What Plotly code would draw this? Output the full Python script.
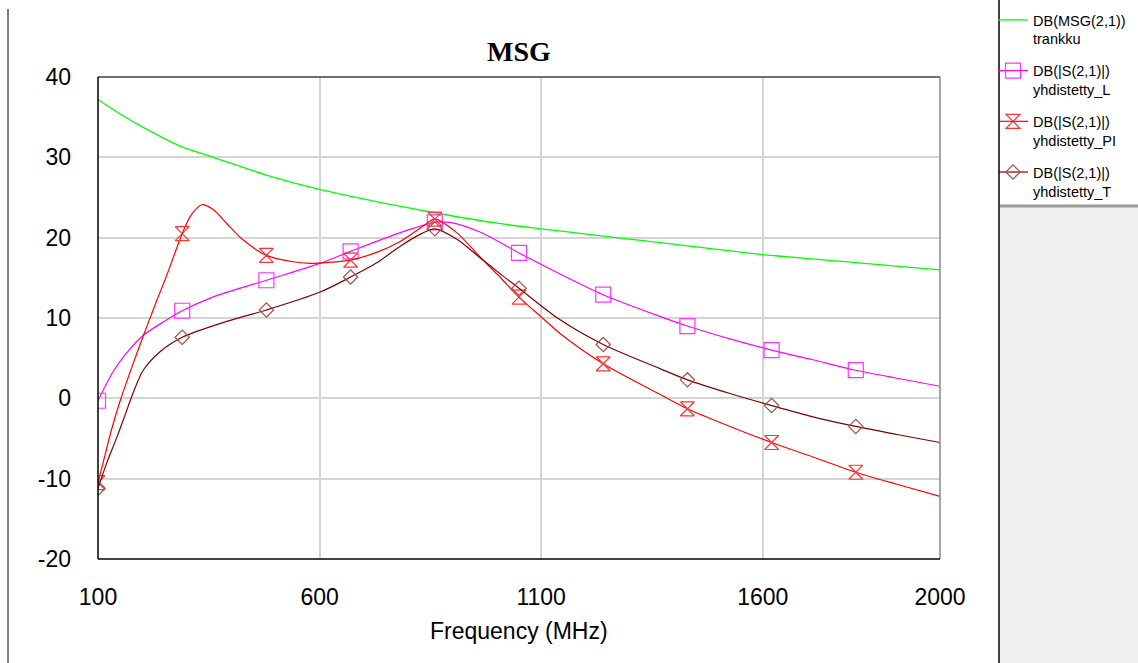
import plotly.graph_objects as go

# ---------------------------------------------------------------------------
# Data: gain curves in dB versus frequency (MHz)
# ---------------------------------------------------------------------------
MARKER_FREQ = [100, 290, 480, 670, 860, 1050, 1240, 1430, 1620, 1810]

FREQ_MSG = [100, 150, 200, 290, 360, 480, 600, 736, 860, 1000, 1100, 1240,
            1413, 1600, 1810, 2000]
MSG_DB = [37.2, 35.4, 33.8, 31.3, 30.0, 27.8, 26.0, 24.4, 23.1, 21.8, 21.1,
          20.2, 19.1, 17.9, 16.9, 16.0]

FREQ_L = [100, 135, 170, 201, 250, 290, 359, 480, 601, 670, 781, 860, 894,
          962, 1050, 1142, 1240, 1368, 1430, 1526, 1620, 1713, 1810, 1903, 2000]
L_DB = [-0.3, 3.4, 6.0, 7.8, 9.6, 10.9, 12.6, 14.7, 16.8, 18.3, 20.6, 21.9,
        21.9, 20.7, 18.1, 15.5, 12.9, 10.2, 9.0, 7.4, 6.0, 4.8, 3.5, 2.5, 1.5]

FREQ_PI = [100, 112, 130, 150, 172, 201, 230, 255, 290, 310, 334, 360, 390,
           428, 480, 540, 578, 616, 670, 730, 781, 830, 860, 910, 969, 1007,
           1050, 1105, 1142, 1240, 1368, 1430, 1526, 1620, 1713, 1810, 1903,
           2000]
PI_DB = [-10.5, -7.9, -4.0, -0.3, 3.2, 7.6, 11.8, 15.3, 20.5, 22.8, 24.1,
         23.5, 21.8, 19.7, 17.8, 17.0, 16.8, 16.9, 17.2, 18.2, 19.5, 21.3,
         22.3, 20.6, 17.2, 15.1, 12.6, 9.9, 8.1, 4.3, 0.5, -1.3, -3.5, -5.5,
         -7.3, -9.2, -10.7, -12.2]

FREQ_T = [100, 120, 140, 157, 180, 202, 240, 290, 380, 480, 600, 670, 730,
          781, 830, 860, 910, 960, 1010, 1050, 1142, 1240, 1368, 1430, 1526,
          1620, 1713, 1810, 1903, 2000]
T_DB = [-11.2, -8.0, -5.2, -2.7, 0.8, 3.5, 5.8, 7.6, 9.4, 11.0, 13.2, 15.1,
        16.9, 18.9, 20.5, 21.1, 19.8, 17.6, 15.4, 13.7, 9.8, 6.7, 3.7, 2.3,
        0.6, -0.9, -2.3, -3.5, -4.5, -5.5]

X_TICKS = [100, 600, 1100, 1600, 2000]
Y_TICKS = [-20, -10, 0, 10, 20, 30, 40]

# ---------------------------------------------------------------------------
# Page geometry (pixels) and helpers to convert to paper coordinates
# ---------------------------------------------------------------------------
FIG_W, FIG_H = 1138, 663
PLOT_L, PLOT_R, PLOT_T, PLOT_B = 98, 940, 77, 559


def px(xp):
    return (xp - PLOT_L) / (PLOT_R - PLOT_L)


def py(yp):
    return (PLOT_B - yp) / (PLOT_B - PLOT_T)


SANS = "Liberation Sans, Arial, sans-serif"
SERIF = "Liberation Serif, Times New Roman, serif"

fig = go.Figure()

fig.add_trace(go.Scatter(
    x=FREQ_MSG, y=MSG_DB, mode="lines",
    name="DB(MSG(2,1))<br>trankku",
    line=dict(color="#00FF00", width=1.3, shape="spline", smoothing=0.8),
    legendgroup="g1",
))


def marked_series(freq, vals, name, color, mcolor, symbol, size, group):
    # markers are shown only at the sweep marker frequencies
    marked = [i for i, f in enumerate(freq) if f in MARKER_FREQ]
    return go.Scatter(
        x=freq, y=vals, mode="lines+markers", name=name,
        line=dict(color=color, width=1.2, shape="spline", smoothing=0.8),
        marker=dict(symbol=symbol, size=size, color=mcolor,
                    line=dict(color=mcolor, width=1.2)),
        selectedpoints=marked,
        selected=dict(marker=dict(opacity=1)),
        unselected=dict(marker=dict(opacity=0)),
        legendgroup=group,
    )


fig.add_trace(marked_series(FREQ_L, L_DB, "DB(|S(2,1)|)<br>yhdistetty_L",
                            "#FF00FF", "#FF33FF", "square-open", 15, "g2"))
fig.add_trace(marked_series(FREQ_PI, PI_DB, "DB(|S(2,1)|)<br>yhdistetty_PI",
                            "#FF0000", "#FF3333", "hourglass-open", 14, "g3"))
fig.add_trace(marked_series(FREQ_T, T_DB, "DB(|S(2,1)|)<br>yhdistetty_T",
                            "#800000", "#A05050", "diamond-open", 11, "g4"))

# Right-hand legend panel and page decorations
shapes = [
    dict(type="rect", xref="paper", yref="paper",
         x0=px(1000), x1=px(FIG_W + 2), y0=py(FIG_H + 2), y1=py(207),
         fillcolor="#F0F0F0", line=dict(width=0), layer="below"),
    dict(type="line", xref="paper", yref="paper",
         x0=px(999), x1=px(FIG_W + 2), y0=py(206), y1=py(206),
         line=dict(color="#9A9A9A", width=3)),
    dict(type="line", xref="paper", yref="paper",
         x0=px(999), x1=px(999), y0=py(-2), y1=py(FIG_H + 2),
         line=dict(color="#404040", width=2)),
    dict(type="line", xref="paper", yref="paper",
         x0=px(8), x1=px(8), y0=py(9), y1=py(FIG_H + 2),
         line=dict(color="#000000", width=1)),
    # plot frame
    dict(type="line", xref="paper", yref="paper", x0=0, x1=1, y0=1, y1=1,
         line=dict(color="#404040", width=1.5)),
    dict(type="line", xref="paper", yref="paper", x0=1, x1=1, y0=0, y1=1,
         line=dict(color="#8A8A8A", width=1.5)),
    dict(type="line", xref="paper", yref="paper", x0=0, x1=0, y0=0, y1=1,
         line=dict(color="#000000", width=1.5)),
    dict(type="line", xref="paper", yref="paper", x0=0, x1=1, y0=0, y1=0,
         line=dict(color="#000000", width=1.5)),
]

annotations = [
    dict(text="<b>MSG</b>", xref="paper", yref="paper", x=0.5, y=py(52),
         xanchor="center", yanchor="middle", showarrow=False,
         font=dict(family=SERIF, size=28, color="#000000")),
    dict(text="Frequency (MHz)", xref="paper", yref="paper", x=0.5, y=py(631),
         xanchor="center", yanchor="middle", showarrow=False,
         font=dict(family=SANS, size=23, color="#000000")),
]

fig.update_layout(
    width=FIG_W, height=FIG_H,
    margin=dict(l=PLOT_L, r=FIG_W - PLOT_R, t=PLOT_T, b=FIG_H - PLOT_B,
                pad=0, autoexpand=False),
    paper_bgcolor="#FFFFFF", plot_bgcolor="#FFFFFF",
    shapes=shapes, annotations=annotations,
    showlegend=True,
    legend=dict(
        x=px(993), y=py(4), xanchor="left", yanchor="top",
        bgcolor="rgba(255,255,255,0)", borderwidth=0,
        font=dict(family=SANS, size=14.5, color="#000000"),
        valign="top", itemsizing="trace", tracegroupgap=10,
        traceorder="grouped",
    ),
    xaxis=dict(
        range=[100, 2000], tickvals=X_TICKS, ticktext=[str(v) for v in X_TICKS],
        showgrid=True, gridcolor="#D4D4D4", gridwidth=1.5,
        zeroline=False, showline=False, ticks="", ticklabelstandoff=22,
        tickfont=dict(family=SANS, size=23, color="#000000"),
    ),
    yaxis=dict(
        range=[-20, 40], tickvals=Y_TICKS, ticktext=[str(v) for v in Y_TICKS],
        showgrid=True, gridcolor="#D4D4D4", gridwidth=1.5,
        zeroline=False, showline=False, ticks="", ticklabelstandoff=26,
        tickfont=dict(family=SANS, size=23, color="#000000"),
    ),
)

fig.write_html("out.html")
